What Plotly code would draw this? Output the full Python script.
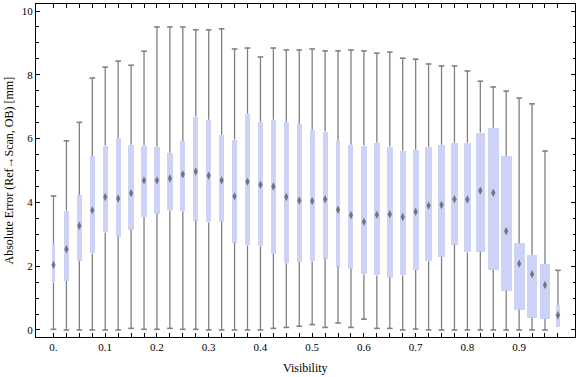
import plotly.graph_objects as go

# ---- data ----
visibility = [0.0, 0.025, 0.05, 0.075, 0.1, 0.125, 0.15, 0.175, 0.2, 0.225,
              0.25, 0.275, 0.3, 0.325, 0.35, 0.375, 0.4, 0.425, 0.45, 0.475,
              0.5, 0.525, 0.55, 0.575, 0.6, 0.625, 0.65, 0.675, 0.7, 0.725,
              0.75, 0.775, 0.8, 0.825, 0.85, 0.875, 0.9, 0.925, 0.95, 0.975]
err_min = [0.02, 0.0, 0.0, 0.0, 0.0, 0.0, 0.05, 0.02, 0.02, 0.05,
           0.02, 0.02, 0.0, 0.0, 0.0, 0.0, 0.0, 0.05, 0.08, 0.12,
           0.17, 0.08, 0.22, 0.08, 0.34, 0.05, 0.05, 0.0, 0.03, 0.0,
           0.0, 0.0, 0.0, 0.0, 0.0, 0.0, 0.0, 0.0, 0.0, None]
err_q1 = [1.49, 1.54, 2.17, 2.40, 3.06, 2.93, 3.15, 3.54, 3.65, 3.75,
          3.72, 3.43, 3.37, 3.40, 2.74, 2.65, 2.62, 2.38, 2.09, 2.13,
          2.15, 2.24, 1.99, 1.92, 1.74, 1.71, 1.64, 1.71, 1.88, 2.15,
          2.30, 2.68, 2.43, 2.46, 1.89, 1.23, 0.64, 0.39, 0.35, 0.10]
err_median = [2.04, 2.53, 3.27, 3.75, 4.17, 4.12, 4.29, 4.69, 4.69, 4.75,
              4.88, 4.97, 4.84, 4.69, 4.19, 4.65, 4.55, 4.50, 4.17, 4.06,
              4.04, 4.10, 3.77, 3.60, 3.39, 3.61, 3.63, 3.54, 3.71, 3.90,
              3.92, 4.10, 4.09, 4.37, 4.30, 3.10, 2.08, 1.75, 1.41, 0.46]
err_q3 = [2.70, 3.74, 4.23, 5.45, 5.78, 6.03, 5.81, 5.78, 5.75, 5.56,
          5.92, 6.69, 6.59, 6.12, 5.97, 6.78, 6.53, 6.59, 6.53, 6.45,
          6.28, 6.22, 5.93, 5.81, 5.78, 5.87, 5.75, 5.62, 5.65, 5.75,
          5.81, 5.87, 5.87, 6.19, 6.34, 5.46, 2.72, 2.35, 2.07, 0.78]
err_max = [4.20, 5.93, 6.51, 7.90, 8.24, 8.43, 8.30, 8.74, 9.50, 9.50,
           9.50, 9.41, 9.41, 9.44, 8.81, 8.84, 8.56, 8.84, 8.78, 8.78,
           8.81, 8.75, 8.75, 8.78, 8.75, 8.68, 8.71, 8.52, 8.49, 8.34,
           8.28, 8.28, 8.12, 7.80, 7.62, 7.49, 7.27, 7.09, 5.61, 1.87]
x_tick_labels = ["0.", "0.1", "0.2", "0.3", "0.4", "0.5", "0.6", "0.7", "0.8", "0.9"]
y_tick_vals = [0, 2, 4, 6, 8, 10]

# ---- style ----
box_width_px = [2.5, 4.3, 5, 5, 5, 5, 5.3, 5.3, 5.7, 6,
                5.3, 5, 5.3, 5, 4.7, 5, 5, 5, 5, 5,
                5, 5, 4.3, 5, 6, 6.3, 6, 6, 6.3, 7,
                7, 7.3, 7.3, 9, 11, 11, 11, 10, 10, 4]
X_RANGE = [-0.0338, 1.008]
ML, MR, MT, MB = 36, 1, 4, 40
PLOT_W = 576 - ML - MR
PX_PER_UNIT = PLOT_W / (X_RANGE[1] - X_RANGE[0])
FONT = "Liberation Serif"
BOX_FILL = "rgb(205,211,246)"
WHISK = "rgb(128,128,128)"

fig = go.Figure()

fig.add_trace(go.Bar(
    x=visibility,
    y=[b - a for a, b in zip(err_q1, err_q3)],
    base=err_q1,
    width=[w / PX_PER_UNIT for w in box_width_px],
    marker=dict(color=BOX_FILL, line=dict(width=0)),
    showlegend=False, hoverinfo="skip",
))

wx, wy = [], []
cx, cy = [], []
for x, lo, q1, q3, hi in zip(visibility, err_min, err_q1, err_q3, err_max):
    wx += [x, x, None]
    wy += [q3, hi, None]
    cx.append(x); cy.append(hi)
    if lo is not None:
        wx += [x, x, None]
        wy += [q1, lo, None]
        cx.append(x); cy.append(lo)

fig.add_trace(go.Scatter(x=wx, y=wy, mode="lines",
                         line=dict(color=WHISK, width=1.3),
                         showlegend=False, hoverinfo="skip"))
fig.add_trace(go.Scatter(x=cx, y=cy, mode="markers",
                         marker=dict(symbol="line-ew", size=4,
                                     line=dict(color=WHISK, width=1.6)),
                         showlegend=False, hoverinfo="skip"))
fig.add_trace(go.Scatter(x=visibility, y=err_median, mode="markers",
                         marker=dict(symbol="diamond-tall", size=6,
                                     color="rgba(100,100,100,0.85)",
                                     line=dict(width=0)),
                         showlegend=False))

fig.update_layout(
    width=576, height=377,
    margin=dict(l=ML, r=MR, t=MT, b=MB, autoexpand=False),
    paper_bgcolor="white", plot_bgcolor="white",
    font=dict(family=FONT, size=11, color="black"),
    bargap=0,
    xaxis=dict(
        range=X_RANGE, automargin=False,
        tickmode="array",
        tickvals=visibility,
        ticktext=[x_tick_labels[i // 4] if i % 4 == 0 else "" for i in range(len(visibility))],
        ticks="inside", ticklen=4, tickcolor="black", tickwidth=1,
        showline=True, linecolor="black", linewidth=1, mirror="ticks",
        showgrid=False, zeroline=False,
        tickfont=dict(family=FONT, size=11),
    ),
    yaxis=dict(
        range=[-0.22, 10.22], automargin=False,
        tickmode="array", tickvals=y_tick_vals,
        ticktext=[str(v) for v in y_tick_vals],
        ticks="inside", ticklen=4, tickcolor="black", tickwidth=1,
        minor=dict(dtick=0.5, ticks="inside", ticklen=2.5, tickcolor="black", tickwidth=1),
        showline=True, linecolor="black", linewidth=1, mirror="ticks",
        showgrid=False, zeroline=False,
        tickfont=dict(family=FONT, size=11),
    ),
    annotations=[
        dict(text="Visibility", xref="paper", yref="paper", x=0.5, y=0,
             xanchor="center", yanchor="middle", yshift=-31, showarrow=False,
             font=dict(family=FONT, size=12, color="black")),
        dict(text="Absolute Error (Ref\u2192Scan, OB) [mm]", xref="paper", yref="paper",
             x=0, y=0.5, xanchor="center", yanchor="middle", xshift=-28,
             textangle=-90, showarrow=False,
             font=dict(family=FONT, size=12, color="black")),
    ],
)

fig.write_html("out.html",
               config={"displayModeBar": False},
               post_script="document.body.style.margin='0';document.body.style.overflow='hidden';")
